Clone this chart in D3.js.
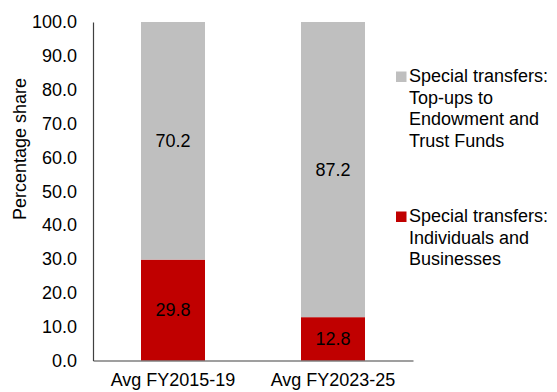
<!DOCTYPE html>
<html>
<head>
<meta charset="utf-8">
<script src="https://cdn.jsdelivr.net/npm/d3@7"></script>
<style>
  html, body { margin: 0; padding: 0; background: #fff; }
  svg { display: block; font-family: "Liberation Sans", Arial, sans-serif; }
</style>
</head>
<body>
<svg id="chart" width="557" height="392"></svg>
<script>
// Periods on the x axis
const categories = ["Avg FY2015-19", "Avg FY2023-25"];
// Stacked shares (percent), bottom to top
const individualsBusinesses = [29.8, 12.8];
const topUpsFunds = [70.2, 87.2];
// Y axis ticks
const yTicks = [0, 10, 20, 30, 40, 50, 60, 70, 80, 90, 100];

const seriesNames = [
  ["Special transfers:", "Top-ups to", "Endowment and", "Trust Funds"],
  ["Special transfers:", "Individuals and", "Businesses"]
];
const colors = { red: "#C00000", gray: "#BFBFBF" };

const svg = d3.select("#chart");
const plot = { left: 93, right: 413, top: 22, bottom: 360.5 };

const x = d3.scaleBand()
  .domain(categories)
  .range([plot.left, plot.right])
  .paddingInner(0.6)
  .paddingOuter(0.3);

const y = d3.scaleLinear()
  .domain([0, 100])
  .range([plot.bottom, plot.top]);

// Stack the two series
const rows = categories.map((c, i) => ({
  cat: c,
  indiv: individualsBusinesses[i],
  topup: topUpsFunds[i]
}));
const stack = d3.stack().keys(["indiv", "topup"])(rows);
const fill = { indiv: colors.red, topup: colors.gray };

const layers = svg.append("g").selectAll("g")
  .data(stack)
  .join("g")
  .attr("fill", d => fill[d.key]);

layers.selectAll("rect")
  .data(d => d)
  .join("rect")
  .attr("x", d => x(d.data.cat))
  .attr("width", x.bandwidth())
  .attr("y", d => y(d[1]))
  .attr("height", d => y(d[0]) - y(d[1]));

// Value labels in the middle of each segment
layers.selectAll("text")
  .data(d => d.map(s => ({ s, key: d.key })))
  .join("text")
  .attr("x", d => x(d.s.data.cat) + x.bandwidth() / 2)
  .attr("y", d => y((d.s[0] + d.s[1]) / 2))
  .attr("dy", "0.35em")
  .attr("text-anchor", "middle")
  .attr("fill", "#000")
  .attr("font-size", 18)
  .text(d => d3.format(".1f")(d.s.data[d.key]));

// Y axis
const yAxis = svg.append("g")
  .attr("transform", `translate(${plot.left},0)`)
  .call(d3.axisLeft(y).tickValues(yTicks).tickFormat(d3.format(".1f")).tickSize(0).tickPadding(16));
yAxis.select(".domain").attr("stroke", "#404040").attr("stroke-width", 1.2);
yAxis.selectAll("text").attr("font-size", 18).attr("fill", "#000")
  .attr("font-family", "Liberation Sans, Arial, sans-serif");

// X axis
const xAxis = svg.append("g")
  .attr("transform", `translate(0,${plot.bottom})`)
  .call(d3.axisBottom(x).tickSize(0).tickPadding(13));
xAxis.select(".domain").attr("stroke", "#404040").attr("stroke-width", 1.2);
xAxis.selectAll("text").attr("font-size", 18).attr("fill", "#000")
  .attr("font-family", "Liberation Sans, Arial, sans-serif");

// Y axis title
svg.append("text")
  .attr("transform", "translate(26,149) rotate(-90)")
  .attr("text-anchor", "middle")
  .attr("font-size", 18)
  .attr("fill", "#000")
  .text("Percentage share");

// Legend: top-ups first, then individuals
const legendItems = [
  { lines: seriesNames[0], color: colors.gray, top: 82 },
  { lines: seriesNames[1], color: colors.red, top: 222 }
];
const legend = svg.append("g");
legendItems.forEach(item => {
  legend.append("rect")
    .attr("x", 396).attr("y", item.top - 10.5)
    .attr("width", 10.5).attr("height", 10.5)
    .attr("fill", item.color);
  const t = legend.append("text")
    .attr("x", 409).attr("y", item.top)
    .attr("font-size", 18).attr("fill", "#000");
  item.lines.forEach((ln, i) => {
    t.append("tspan").attr("x", 409).attr("dy", i === 0 ? 0 : 21.7).text(ln);
  });
});
</script>
</body>
</html>
